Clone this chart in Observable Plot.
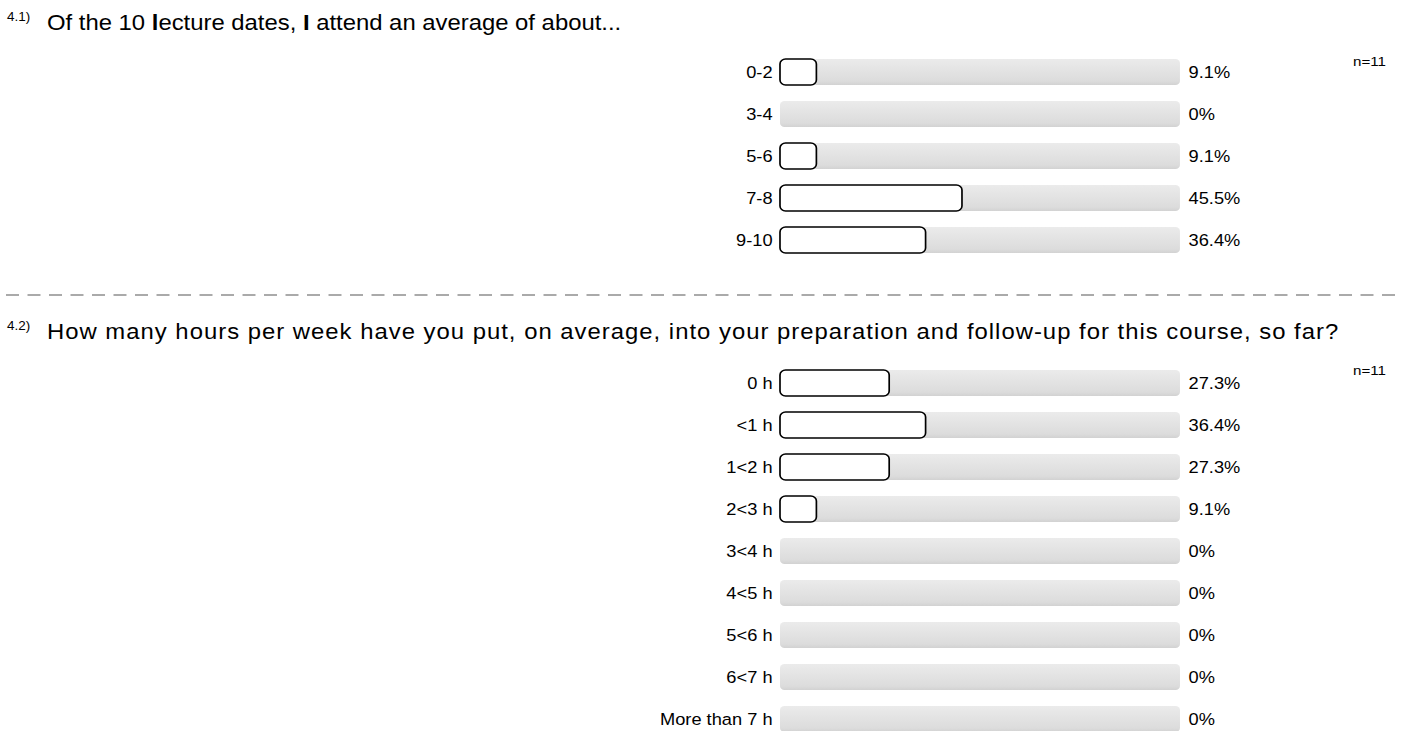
<!DOCTYPE html>
<html><head><meta charset="utf-8">
<script src="https://cdn.jsdelivr.net/npm/d3@7"></script>
<script src="https://cdn.jsdelivr.net/npm/@observablehq/plot@0.6"></script>
<style>
html,body{margin:0;padding:0;background:#fff;overflow:hidden;}
body{width:1403px;height:731px;font-family:"Liberation Sans",Arial,sans-serif;color:#000;}
#page{position:absolute;left:0;top:0;height:731px;transform-origin:0 0;}
.abs{position:absolute;white-space:nowrap;line-height:1;}
.num{font-size:12px;}
.q{font-size:21.3px;}
.n{font-size:13.5px;}
</style></head><body>
<svg width="0" height="0" style="position:absolute">
  <defs>
    <linearGradient id="trackGrad" x1="0" y1="0" x2="0" y2="1">
      <stop offset="0" stop-color="#ebebeb"/>
      <stop offset="0.85" stop-color="#dcdcdc"/>
      <stop offset="1" stop-color="#d2d2d2"/>
    </linearGradient>
  </defs>
</svg>
<div id="page"></div>
<script>
// ---- data ----
const q1Number = "4.1)";
const q1Title = "Of the 10 <b>l</b>ecture dates, <b>I</b> attend an average of about...";
const q1Categories = ["0-2", "3-4", "5-6", "7-8", "9-10"];
const q1Values = [9.1, 0, 9.1, 45.5, 36.4];
const q1N = "n=11";

const q2Number = "4.2)";
const q2Title = "How many hours per week have you put, on average, into your preparation and follow-up for this course, so far?";
const q2Categories = ["0 h", "<1 h", "1<2 h", "2<3 h", "3<4 h", "4<5 h", "5<6 h", "6<7 h", "More than 7 h"];
const q2Values = [27.3, 36.4, 27.3, 9.1, 0, 0, 0, 0, 0];
const q2N = "n=11";

// ---- layout ----
const K = 1.12;            // horizontal stretch of the reference
const PAGE_W = 1403 / K;
const STEP = 42.7;
const ML = 780 / K, MR = 223 / K;
const page = document.getElementById("page");
page.style.width = PAGE_W + "px";
page.style.transform = `scaleX(${K})`;

function addText(html, cls, left, top, spacing) {
  const d = document.createElement("div");
  d.className = "abs " + cls;
  d.style.left = left + "px";
  d.style.top = top + "px";
  if (spacing) d.style.letterSpacing = spacing + "px";
  d.innerHTML = html;
  page.appendChild(d);
}

function chart(cats, vals) {
  const data = cats.map((c, i) => ({c, v: vals[i], label: vals[i] + "%"}));
  return Plot.plot({
    width: PAGE_W,
    height: cats.length * STEP,
    marginLeft: ML, marginRight: MR, marginTop: 0, marginBottom: 0,
    x: {domain: [0, 100], axis: null},
    y: {domain: cats, padding: 0.375, paddingOuter: 0.1875, label: null, tickSize: 0, tickPadding: 8 / K},
    style: {fontFamily: "'Liberation Sans', Arial, sans-serif", fontSize: "16.3px", color: "#000", background: "transparent", overflow: "visible"},
    marks: [
      Plot.barX(data, {y: "c", x1: 0, x2: 100, fill: "url(#trackGrad)", rx: 4}),
      Plot.barX(data.filter(d => d.v > 0), {y: "c", x1: 0, x2: "v", fill: "white", stroke: "black", strokeWidth: 1.5, rx: 5}),
      Plot.text(data, {y: "c", x: 100, text: "label", dx: 8 / K, textAnchor: "start", fontSize: 16.3, fill: "#000"})
    ]
  });
}

function block(num, title, cats, vals, n, offset, spacing) {
  addText(num, "num", 7 / K, 11 + offset);
  addText(title, "q", 47 / K, 13 + offset, spacing);
  addText(n, "n", 1353 / K, 54.5 + offset);
  const svg = chart(cats, vals);
  const wrap = document.createElement("div");
  wrap.style.position = "absolute";
  wrap.style.left = "0px";
  wrap.style.top = (70.8 - STEP / 2 + offset) + "px";
  wrap.appendChild(svg);
  page.appendChild(wrap);
}

block(q1Number, q1Title, q1Categories, q1Values, q1N, 0, 0);

// dashed separator
const sep = d3.select(page).append("svg")
  .attr("width", PAGE_W).attr("height", 4)
  .style("position", "absolute").style("left", "0px").style("top", "293px");
sep.append("line")
  .attr("x1", 6 / K).attr("x2", PAGE_W).attr("y1", 2).attr("y2", 2)
  .attr("stroke", "#aaa").attr("stroke-width", 1.8)
  .attr("stroke-dasharray", `${13 / K} ${8.5 / K}`);

block(q2Number, q2Title, q2Categories, q2Values, q2N, 309.2, 0.9);
</script>
</body></html>
